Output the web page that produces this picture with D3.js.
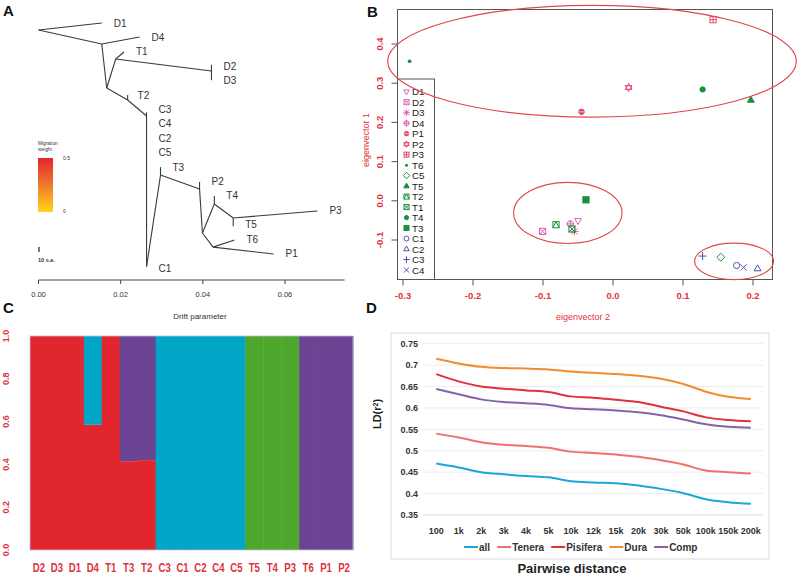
<!DOCTYPE html>
<html><head><meta charset="utf-8">
<script src="https://cdn.jsdelivr.net/npm/d3@7"></script>
<style>body{margin:0;background:#fff}svg{display:block}text{font-family:"Liberation Sans",Arial,sans-serif}</style>
</head><body>
<svg id="c" width="799" height="577"></svg>
<script>
// ---------- Panel A: TreeMix tree ----------
const treeNodes = [
  {id:"root",drift:0.0000,row:0.49},{id:"D1",drift:0.0154,row:0.0},{id:"nA",drift:0.0154,row:1.46},
  {id:"D4",drift:0.0246,row:0.97},{id:"nB",drift:0.0166,row:4.51},{id:"nC",drift:0.0188,row:2.5},
  {id:"T1",drift:0.0208,row:2.01},{id:"nD23",drift:0.0421,row:3.33},{id:"D2t",drift:0.0421,row:2.9},
  {id:"D3b",drift:0.0421,row:3.97},{id:"nT2",drift:0.0217,row:5.34},{id:"T2",drift:0.0217,row:5.0},
  {id:"nCg",drift:0.0263,row:6.45},{id:"Ct",drift:0.0263,row:6.2},{id:"C1",drift:0.0263,row:16.9},
  {id:"nT3",drift:0.0297,row:10.55},{id:"T3",drift:0.0297,row:10.0},{id:"nP2",drift:0.0392,row:11.52},
  {id:"P2",drift:0.0392,row:11.03},{id:"nD",drift:0.0399,row:14.57},{id:"nT4",drift:0.0428,row:12.56},
  {id:"T4",drift:0.0428,row:12.0},{id:"nT5",drift:0.0474,row:13.53},{id:"T5",drift:0.0474,row:14.1},
  {id:"P3",drift:0.0679,row:13.05},{id:"nE",drift:0.0425,row:15.55},{id:"T6",drift:0.0477,row:15.06},
  {id:"P1",drift:0.0572,row:16.03}
];
const treeEdges = [["root","D1"],["root","nA"],["nA","D4"],["nA","nB"],["nB","nC"],["nC","T1"],["nC","nD23"],
  ["D2t","D3b"],["nB","nT2"],["nT2","T2"],["nT2","nCg"],["Ct","C1"],["C1","nT3"],["nT3","T3"],["nT3","nP2"],
  ["nP2","P2"],["nP2","nD"],["nD","nT4"],["nT4","T4"],["nT4","nT5"],["nT5","T5"],["nT5","P3"],["nD","nE"],
  ["nE","T6"],["nE","P1"]];
const treeLabels = [
  {name:"D1",drift:0.0154,row:0},{name:"D4",drift:0.0246,row:1},{name:"T1",drift:0.0208,row:2},
  {name:"D2",drift:0.0421,row:3},{name:"D3",drift:0.0421,row:4},{name:"T2",drift:0.0212,row:5},
  {name:"C3",drift:0.0263,row:6},{name:"C4",drift:0.0263,row:7},{name:"C2",drift:0.0263,row:8},
  {name:"C5",drift:0.0263,row:9},{name:"T3",drift:0.0297,row:10},{name:"P2",drift:0.0392,row:11},
  {name:"T4",drift:0.0428,row:12},{name:"P3",drift:0.0679,row:13},{name:"T5",drift:0.0474,row:14},
  {name:"T6",drift:0.0477,row:15},{name:"P1",drift:0.0572,row:16},{name:"C1",drift:0.0263,row:17}
];
const driftTicks = [0, 0.02, 0.04, 0.06];

// ---------- Panel B: PCA ----------
const pcaPoints = [
  {name:"D1",x:-0.050,y:-0.051},{name:"D2",x:-0.1006,y:-0.078},{name:"D3",x:-0.055,y:-0.078},
  {name:"D4",x:-0.061,y:-0.059},{name:"P1",x:-0.045,y:0.227},{name:"P2",x:0.0223,y:0.289},
  {name:"P3",x:0.143,y:0.462},{name:"T6",x:-0.2906,y:0.356},{name:"C5",x:0.154,y:-0.144},
  {name:"T5",x:0.197,y:0.257},{name:"T2",x:-0.0814,y:-0.061},{name:"T1",x:-0.0586,y:-0.072},
  {name:"T4",x:0.128,y:0.284},{name:"T3",x:-0.0386,y:0.0025},{name:"C1",x:0.1766,y:-0.165},
  {name:"C2",x:0.2066,y:-0.173},{name:"C3",x:0.128,y:-0.141},{name:"C4",x:0.1866,y:-0.170}
];
const legNames = ["D1","D2","D3","D4","P1","P2","P3","T6","C5","T5","T2","T1","T4","T3","C1","C2","C3","C4"];
const clusterCx = [-0.030, -0.0646, 0.173];
const clusterCy = [0.356, -0.031, -0.1545];
const clusterRx = [0.292, 0.0774, 0.0564];
const clusterRy = [0.1425, 0.078, 0.0466];
const ev2Ticks = [-0.3,-0.2,-0.1,0.0,0.1,0.2];
const ev1Ticks = [-0.1,0.0,0.1,0.2,0.3,0.4];

// ---------- Panel C: admixture ----------
const admixSamples = ["D2","D3","D1","D4","T1","T3","T2","C3","C1","C2","C4","C5","T5","T4","P3","T6","P1","P2"];
const admixRed    = [1,1,1,0.585,1,0.415,0.42,0,0,0,0,0,0,0,0,0,0,0];
const admixCyan   = [0,0,0,0.415,0,0,0,1,1,1,1,1,0,0,0,0,0,0];
const admixPurple = [0,0,0,0,0,0.585,0.58,0,0,0,0,0,0,0,0,1,1,1];
const admixGreen  = [0,0,0,0,0,0,0,0,0,0,0,0,1,1,1,0,0,0];
const admixTicks = [0,0.2,0.4,0.6,0.8,1.0];

// ---------- Panel D: LD decay ----------
const ldDistances = ["100","1k","2k","3k","4k","5k","10k","12k","15k","20k","30k","50k","100k","150k","200k"];
const ldAll      = [0.470,0.461,0.450,0.445,0.441,0.438,0.429,0.426,0.424,0.419,0.411,0.401,0.387,0.380,0.376];
const ldTenera   = [0.540,0.531,0.520,0.514,0.511,0.507,0.498,0.495,0.491,0.486,0.478,0.468,0.454,0.450,0.447];
const ldPisifera = [0.679,0.662,0.650,0.645,0.641,0.637,0.627,0.624,0.619,0.614,0.603,0.592,0.578,0.572,0.569];
const ldDura     = [0.715,0.704,0.696,0.693,0.692,0.690,0.685,0.682,0.679,0.675,0.668,0.656,0.638,0.626,0.621];
const ldComp     = [0.644,0.632,0.620,0.614,0.611,0.607,0.599,0.597,0.594,0.590,0.583,0.573,0.562,0.556,0.554];
const ldSeriesNames = ["all","Tenera","Pisifera","Dura","Comp"];
const ldTicks = [0.35,0.4,0.45,0.5,0.55,0.6,0.65,0.7,0.75];

const svg = d3.select("#c");

// ================= Panel A =================
const gA = svg.append("g");
const xA = d3.scaleLinear().domain([0,0.06]).range([38.5,285]);
const yA = d3.scaleLinear().domain([0,17]).range([23,268]);
const nodeById = new Map(treeNodes.map(d=>[d.id,d]));
gA.selectAll("line.edge").data(treeEdges).join("line")
  .attr("x1",d=>xA(nodeById.get(d[0]).drift)).attr("y1",d=>yA(nodeById.get(d[0]).row))
  .attr("x2",d=>xA(nodeById.get(d[1]).drift)).attr("y2",d=>yA(nodeById.get(d[1]).row))
  .attr("stroke","#3a3a3a").attr("stroke-width",1.1);
gA.selectAll("text.tl").data(treeLabels).join("text")
  .attr("x",d=>xA(d.drift)+12).attr("y",d=>yA(d.row)).attr("dy","0.35em")
  .attr("font-size",10).style("fill","#333").text(d=>d.name);
const axA = gA.append("g").attr("transform","translate(0,280)");
axA.append("line").attr("x1",xA(0)).attr("x2",xA(0.0745)).attr("stroke","#444");
axA.selectAll("line.t").data(driftTicks).join("line").attr("x1",d=>xA(d)).attr("x2",d=>xA(d)).attr("y1",0).attr("y2",4).attr("stroke","#444");
axA.selectAll("text").data(driftTicks).join("text").attr("x",d=>xA(d)).attr("y",17).attr("text-anchor","middle")
  .attr("font-size",7.5).attr("fill","#333").text(d=>d3.format(".2f")(d));
gA.append("text").attr("x",200).attr("y",319).attr("text-anchor","middle").attr("font-size",8).attr("fill","#333").text("Drift parameter");
const grad = svg.append("defs").append("linearGradient").attr("id","mig").attr("x1",0).attr("x2",0).attr("y1",0).attr("y2",1);
grad.append("stop").attr("offset","0%").attr("stop-color","#e3262e");
grad.append("stop").attr("offset","50%").attr("stop-color","#ef7a2a");
grad.append("stop").attr("offset","100%").attr("stop-color","#ffd51a");
gA.append("text").attr("x",38).attr("y",145).attr("font-size",4.8).attr("fill","#333").text("Migration");
gA.append("text").attr("x",38).attr("y",151).attr("font-size",4.8).attr("fill","#333").text("weight");
gA.append("rect").attr("x",38).attr("y",158).attr("width",15).attr("height",54).attr("fill","url(#mig)");
gA.append("text").attr("x",63).attr("y",160).attr("font-size",5).attr("fill","#333").text("0.5");
gA.append("text").attr("x",63).attr("y",213).attr("font-size",5).attr("fill","#333").text("0");
gA.append("line").attr("x1",39).attr("x2",39).attr("y1",247).attr("y2",252).attr("stroke","#222").attr("stroke-width",1.2);
gA.append("text").attr("x",38).attr("y",262).attr("font-size",5.5).attr("fill","#333").attr("font-weight","bold").text("10 s.e.");

// ================= Panel B =================
const gB = svg.append("g");
const xB = d3.scaleLinear().domain([-0.3,0.2]).range([403,753]);
const yB = d3.scaleLinear().domain([-0.1,0.4]).range([240,44]);
const boxB = {x0:397.5,x1:772.5,y0:9.5,y1:279.5};
const red = "#e2313b";
gB.append("rect").attr("x",boxB.x0).attr("y",boxB.y0).attr("width",boxB.x1-boxB.x0).attr("height",boxB.y1-boxB.y0)
  .attr("fill","none").attr("stroke","#555");
gB.selectAll("line.xt").data(ev2Ticks).join("line").attr("x1",d=>xB(d)).attr("x2",d=>xB(d)).attr("y1",boxB.y1).attr("y2",boxB.y1+6).attr("stroke","#555");
gB.selectAll("text.xt").data(ev2Ticks).join("text").attr("x",d=>xB(d)).attr("y",299).attr("text-anchor","middle")
  .attr("font-size",9.5).attr("font-weight","bold").attr("fill",red).text(d=>d3.format(".1f")(d).replace("−","-"));
gB.selectAll("line.yt").data(ev1Ticks).join("line").attr("y1",d=>yB(d)).attr("y2",d=>yB(d)).attr("x1",boxB.x0-6).attr("x2",boxB.x0).attr("stroke","#555");
gB.selectAll("text.yt").data(ev1Ticks).join("text").attr("transform",d=>`translate(383,${yB(d)}) rotate(-90)`).attr("text-anchor","middle")
  .attr("font-size",9.5).attr("font-weight","bold").attr("fill",red).text(d=>d3.format(".1f")(d).replace("−","-"));
gB.append("text").attr("x",583).attr("y",320).attr("text-anchor","middle").attr("font-size",9).attr("fill",red).text("eigenvector 2");
gB.append("text").attr("transform","translate(369,140) rotate(-90)").attr("text-anchor","middle").attr("font-size",9).attr("fill",red).text("eigenvector 1");

const colD="#e060b4", colP="#e2486e", colT="#17913a", colC="#4f4fb0";
const symStyle = {
  D1:["tridown",colD],D2:["sqx",colD],D3:["ast",colD],D4:["cplus",colD],P1:["cfillx",colP],P2:["star",colP],P3:["sqplus",colP],
  T6:["dot",colT],C5:["diamond",colT],T5:["trifill",colT],T2:["sqtri",colT],T1:["sqx",colT],T4:["cfill",colT],T3:["sqfill",colT],
  C1:["circle",colC],C2:["tri",colC],C3:["plus",colC],C4:["x",colC]
};
function sym(g,type,x,y,col,s){
  const q=g.append("g").attr("transform",`translate(${x},${y})`).attr("stroke",col).attr("fill","none").attr("stroke-width",1);
  const sq=()=>q.append("rect").attr("x",-s).attr("y",-s).attr("width",2*s).attr("height",2*s);
  const xx=()=>q.append("path").attr("d",`M${-s},${-s}L${s},${s}M${-s},${s}L${s},${-s}`);
  const pl=(k=1.25)=>q.append("path").attr("d",`M${-s*k},0L${s*k},0M0,${-s*k}L0,${s*k}`);
  switch(type){
    case "tridown": q.append("path").attr("d",`M${-s*1.1},${-s*0.7}L${s*1.1},${-s*0.7}L0,${s*1.2}Z`);break;
    case "tri": q.append("path").attr("d",`M${-s*1.1},${s*0.7}L${s*1.1},${s*0.7}L0,${-s*1.2}Z`);break;
    case "trifill": q.append("path").attr("d",`M${-s*1.1},${s*0.7}L${s*1.1},${s*0.7}L0,${-s*1.2}Z`).attr("fill",col);break;
    case "sqx": sq();xx();break;
    case "sqplus": sq();pl(1);break;
    case "sqtri": sq();q.append("path").attr("d",`M${-s},${s}L0,${-s}L${s},${s}`);break;
    case "sqfill": sq().attr("fill",col);break;
    case "ast": xx();pl(1.3);break;
    case "cplus": q.append("circle").attr("r",s);pl(1.3);break;
    case "cfillx": q.append("circle").attr("r",s*0.9).attr("fill",col);q.append("path").attr("d",`M${-s*1.2},0L${s*1.2},0`).attr("stroke","#f6b0c0");break;
    case "star": q.append("path").attr("d",`M${-s*1.1},${-s*0.6}L${s*1.1},${-s*0.6}L0,${s*1.3}ZM${-s*1.1},${s*0.6}L${s*1.1},${s*0.6}L0,${-s*1.3}Z`);break;
    case "dot": q.append("circle").attr("r",s*0.6).attr("fill",col).attr("stroke","none");break;
    case "diamond": q.append("path").attr("d",`M0,${-s*1.3}L${s*1.3},0L0,${s*1.3}L${-s*1.3},0Z`);break;
    case "cfill": q.append("circle").attr("r",s*0.85).attr("fill",col);break;
    case "circle": q.append("circle").attr("r",s);break;
    case "plus": pl(1.3);break;
    case "x": xx();break;
  }
}
const legTop=79, legStep=10.49;
gB.append("rect").attr("x",boxB.x0).attr("y",legTop).attr("width",37).attr("height",boxB.y1-legTop).attr("fill","#fff").attr("stroke","#555");
legNames.forEach((n,i)=>{
  const y=legTop+12.7+i*legStep;
  sym(gB,symStyle[n][0],406.5,y,symStyle[n][1],2.5);
  gB.append("text").attr("x",412).attr("y",y).attr("dy","0.36em").attr("font-size",9.8).attr("fill","#222").text(n);
});
pcaPoints.forEach(p=>sym(gB,symStyle[p.name][0],xB(p.x),yB(p.y),symStyle[p.name][1],3.1));
gB.selectAll("ellipse").data(clusterCx).join("ellipse")
  .attr("cx",(d,i)=>xB(clusterCx[i])).attr("cy",(d,i)=>yB(clusterCy[i]))
  .attr("rx",(d,i)=>xB(clusterRx[i])-xB(0)).attr("ry",(d,i)=>yB(0)-yB(clusterRy[i]))
  .attr("fill","none").attr("stroke","#e0474f").attr("stroke-width",1.1);

// ================= Panel C =================
const gC = svg.append("g");
const xC = d3.scaleBand().domain(admixSamples).range([30,353]).padding(0);
const yC = d3.scaleLinear().domain([0,1]).range([550,336]);
const comps = [[admixRed,"#e1272d"],[admixCyan,"#01a5c6"],[admixPurple,"#6a4493"],[admixGreen,"#4ea72c"]];
admixSamples.forEach((s,i)=>{
  let acc=0;
  comps.forEach(c=>{
    const v=c[0][i]; if(v<=0) return;
    gC.append("rect").attr("x",xC(s)).attr("width",xC.bandwidth()+0.5).attr("y",yC(acc+v)).attr("height",yC(acc)-yC(acc+v)).attr("fill",c[1]);
    acc+=v;
  });
});
gC.append("rect").attr("x",30).attr("y",336).attr("width",323).attr("height",214).attr("fill","none").attr("stroke","#c9bde0").attr("stroke-width",0.8);
gC.selectAll("text.yl").data(admixTicks).join("text").attr("transform",d=>`translate(9,${yC(d)}) rotate(-90)`).attr("text-anchor","middle")
  .attr("font-size",9).attr("font-weight","bold").attr("fill",red).text(d=>d3.format(".1f")(d));
gC.selectAll("text.xl").data(admixSamples).join("text").attr("transform",d=>`translate(${xC(d)+xC.bandwidth()/2},572) scale(0.8,1)`)
  .attr("text-anchor","middle").attr("font-size",12).attr("font-weight","bold").attr("fill",red).text(d=>d);

// ================= Panel D =================
const gD = svg.append("g");
gD.append("rect").attr("x",391).attr("y",333).attr("width",378).attr("height",226).attr("fill","#fff").attr("stroke","#d9d9d9");
const xD = d3.scalePoint().domain(ldDistances).range([425,762]).padding(0.5);
const yD = d3.scaleLinear().domain([0.35,0.75]).range([515,343.7]);
gD.selectAll("line.g").data(ldTicks).join("line").attr("x1",423).attr("x2",763).attr("y1",d=>yD(d)).attr("y2",d=>yD(d))
  .attr("stroke",d=>d===0.35?"#d9d9d9":"#ececec").attr("stroke-width",1);
gD.selectAll("text.yl").data(ldTicks).join("text").attr("x",418).attr("y",d=>yD(d)).attr("dy","0.35em").attr("text-anchor","end")
  .attr("font-size",9).attr("font-weight","bold").attr("fill","#333").text(d=>String(+d.toFixed(2)));
gD.selectAll("text.xl").data(ldDistances).join("text").attr("x",d=>xD(d)).attr("y",534).attr("text-anchor","middle")
  .attr("font-size",9).attr("font-weight","bold").attr("fill","#333").text(d=>d);
const ldColors = ["#1aa6dc","#f0706c","#e2303a","#f38b2f","#8462a9"];
const ldData = [ldAll,ldTenera,ldPisifera,ldDura,ldComp];
const lineD = d3.line().x((d,i)=>xD(ldDistances[i])).y(d=>yD(d)).curve(d3.curveMonotoneX);
ldData.forEach((s,k)=>gD.append("path").attr("d",lineD(s)).attr("fill","none").attr("stroke",ldColors[k]).attr("stroke-width",2));
let lx=464;
ldSeriesNames.forEach((n,k)=>{
  gD.append("line").attr("x1",lx).attr("x2",lx+14).attr("y1",547).attr("y2",547).attr("stroke",ldColors[k]).attr("stroke-width",2);
  const t=gD.append("text").attr("x",lx+15).attr("y",547).attr("dy","0.35em").attr("font-family","'Liberation Serif','Times New Roman',serif")
    .attr("font-size",10).attr("font-weight","bold").attr("fill","#333").text(n);
  lx+=15+t.node().getComputedTextLength()+7;
});
gD.append("text").attr("transform","translate(381,414) rotate(-90)").attr("text-anchor","middle").attr("font-size",11).attr("font-weight","bold").attr("fill","#222")
  .html('LD(r<tspan baseline-shift="super" font-size="7">2</tspan>)');
gD.append("text").attr("x",572).attr("y",573).attr("text-anchor","middle").attr("font-size",13).attr("font-weight","bold").attr("fill","#222").text("Pairwise distance");

[["A",3,16],["B",367,17],["C",3,313],["D",366,313]].forEach(p=>{
  svg.append("text").attr("x",p[1]).attr("y",p[2]).attr("font-size",15).attr("font-weight","bold").attr("fill","#111").text(p[0]);
});
</script>
</body></html>
